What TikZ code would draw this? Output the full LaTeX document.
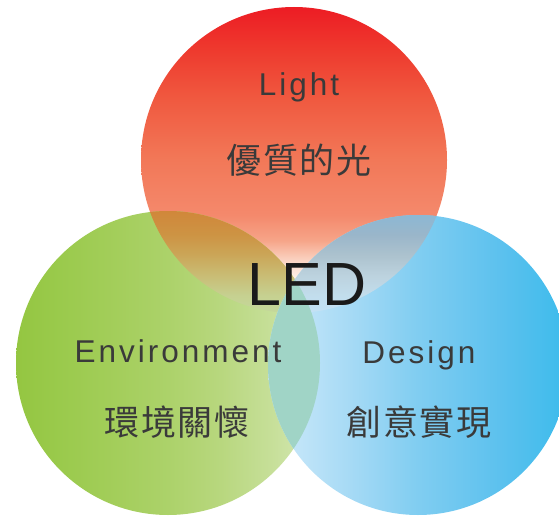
\documentclass[tikz,border=0pt]{standalone}
\usepackage{fontspec}
\setmainfont{Liberation Sans}
\newfontfamily\lblfont[LetterSpace=9.5]{Liberation Sans}
\newfontfamily\cjkfont[LetterSpace=5]{Noto Sans CJK TC}
% red circle (vertical)
\definecolor{rA}{HTML}{ED1C24}
\definecolor{rB}{HTML}{EE3A2E}
\definecolor{rC}{HTML}{F05A40}
\definecolor{rD}{HTML}{F27858}
\definecolor{rE}{HTML}{F4896C}
\definecolor{rF}{HTML}{F6A488}
\definecolor{rG}{HTML}{FBD8C8}
\definecolor{rH}{HTML}{FFF4EE}
% green circle (horizontal)
\definecolor{gA}{HTML}{94C641}
\definecolor{gB}{HTML}{9ACA4C}
\definecolor{gC}{HTML}{A4CE5C}
\definecolor{gD}{HTML}{ACD26A}
\definecolor{gE}{HTML}{B8D77E}
\definecolor{gF}{HTML}{C6DF98}
\definecolor{gG}{HTML}{D6E9B8}
% blue circle (horizontal)
\definecolor{bA}{HTML}{CAE8FA}
\definecolor{bB}{HTML}{C0E4F8}
\definecolor{bC}{HTML}{A6DAF5}
\definecolor{bD}{HTML}{80CDF1}
\definecolor{bE}{HTML}{5CC1EE}
\definecolor{bF}{HTML}{40BCEC}
\definecolor{bG}{HTML}{3BBBEB}
% red/green lens (vertical)
\definecolor{oA}{HTML}{D0873A}
\definecolor{oB}{HTML}{CD9444}
\definecolor{oC}{HTML}{CBA658}
\definecolor{oD}{HTML}{C9BC74}
\definecolor{oE}{HTML}{C6D090}
\definecolor{oF}{HTML}{C4D99C}
% red/blue lens (vertical)
\definecolor{vA}{HTML}{8CB8D4}
\definecolor{vB}{HTML}{9AB6CA}
\definecolor{vC}{HTML}{ACC2CE}
\definecolor{vD}{HTML}{BCD2DE}
\definecolor{vE}{HTML}{C2DDEC}
\definecolor{vF}{HTML}{C4E2F6}
\definecolor{teal}{HTML}{A0D4C6}
\definecolor{txt}{HTML}{3A3A3A}
\definecolor{ledtxt}{HTML}{1A1A1A}
\pgfdeclareverticalshading{redsh}{100bp}{color(0bp)=(white); color(25bp)=(white); color(30.4bp)=(rH); color(33.3bp)=(rG); color(36.9bp)=(rF); color(41bp)=(rE); color(50bp)=(rD); color(59.8bp)=(rC); color(68bp)=(rB); color(75bp)=(rA); color(100bp)=(rA)}
\pgfdeclarehorizontalshading{greensh}{100bp}{color(0bp)=(gA); color(25bp)=(gA); color(32.2bp)=(gB); color(42.1bp)=(gC); color(50bp)=(gD); color(58.6bp)=(gE); color(66.8bp)=(gF); color(75bp)=(gG); color(100bp)=(gG)}
\pgfdeclarehorizontalshading{bluesh}{100bp}{color(0bp)=(bA); color(25bp)=(bA); color(30.3bp)=(bB); color(38.7bp)=(bC); color(50bp)=(bD); color(63.7bp)=(bE); color(73.5bp)=(bF); color(75bp)=(bG); color(100bp)=(bG)}
\pgfdeclareverticalshading{rgsh}{100bp}{color(0bp)=(oF); color(58.2bp)=(oF); color(61.2bp)=(oE); color(64.5bp)=(oD); color(67.8bp)=(oC); color(71bp)=(oB); color(75bp)=(oA); color(100bp)=(oA)}
\pgfdeclareverticalshading{rbsh}{100bp}{color(0bp)=(vF); color(58.7bp)=(vF); color(61.7bp)=(vE); color(65bp)=(vD); color(68.3bp)=(vC); color(71.7bp)=(vB); color(75bp)=(vA); color(100bp)=(vA)}
\tikzset{
  lbl/.style={font=\lblfont\fontsize{31.5}{38}\selectfont, text=txt, inner sep=0pt, anchor=base},
  cjk/.style={font=\cjkfont\fontsize{35}{42}\selectfont, text=txt, inner sep=0pt, anchor=base},
  bigled/.style={font=\fontsize{61}{70}\selectfont, text=ledtxt, inner sep=0pt, anchor=base}
}
\begin{document}
\begin{tikzpicture}[x=1pt,y=-1pt]
\useasboundingbox (0,0) rectangle (559,516);
\coordinate (R) at (294,160);
\coordinate (G) at (168,363);
\coordinate (B) at (418,365);
% base circles
\shade[shading=redsh] (R) circle (153pt);
\shade[shading=greensh] (G) circle (152pt);
\shade[shading=bluesh] (B) circle (150pt);
% red & green overlap
\begin{scope}
  \clip (R) circle (153pt);
  \shade[shading=rgsh] (G) circle (152pt);
\end{scope}
% red & blue overlap
\begin{scope}
  \clip (R) circle (153pt);
  \shade[shading=rbsh] (B) circle (150pt);
\end{scope}
% green & blue overlap
\begin{scope}
  \clip (G) circle (152pt);
  \fill[teal] (B) circle (150pt);
\end{scope}
% labels
\node[lbl] (light) at (299,96) {Light};
\node[cjk] (lightzh) at (299,173) {優質的光};
\node[bigled] (led) at (307,305) {LED};
\node[lbl] (env) at (178,362) {Environment};
\node[cjk] (envzh) at (177,435) {環境關懷};
\node[lbl] (design) at (419,363) {Design};
\node[cjk] (designzh) at (419,435) {創意實現};
\end{tikzpicture}
\end{document}
